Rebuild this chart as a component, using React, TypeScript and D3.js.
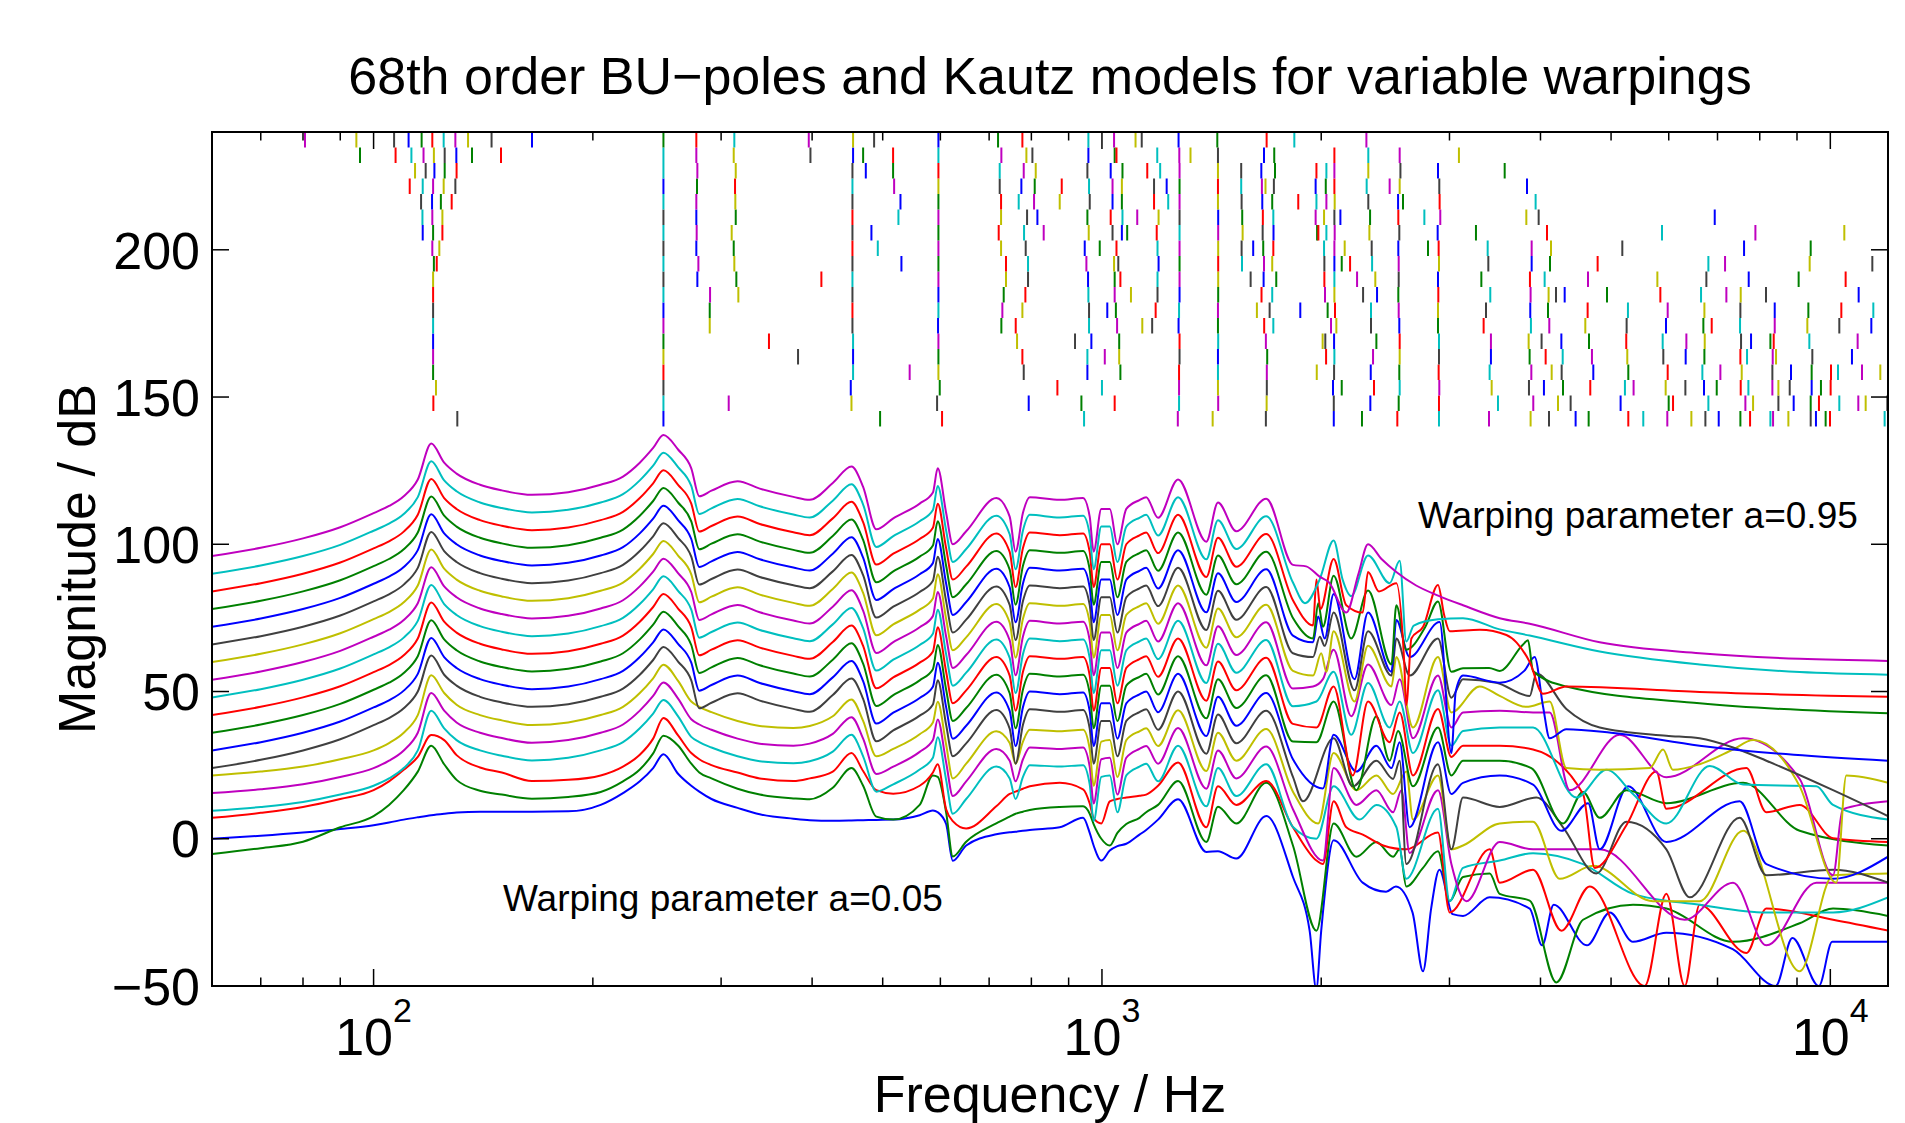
import { useEffect, useRef } from "react";
import * as d3 from "d3";

// warping parameter of each curve, bottom (a=0.05) to top (a=0.95)
const warpings = [0.05, 0.1, 0.15, 0.2, 0.25, 0.3, 0.35, 0.4, 0.45, 0.5, 0.55, 0.6, 0.65, 0.7, 0.75, 0.8, 0.85, 0.9, 0.95];
// each curve is lifted by 6 dB over the one below
const offsetsDb = [0, 6, 12, 18, 24, 30, 36, 42, 48, 54, 60, 66, 72, 78, 84, 90, 96, 102, 108];

// common frequency grid (Hz) for the part below ~1.8 kHz
const lowFreqs = [60, 70, 80, 90, 100, 105, 110, 115, 120, 125, 130, 140, 150, 165, 185, 205, 220, 232, 242, 250,
  262, 273, 280, 291, 316, 339, 377, 397, 427, 453, 470, 490, 517, 562, 586, 595, 611, 624, 651, 716,
  747, 761, 779, 796, 875, 942, 962, 974, 998, 1025, 1050, 1080, 1126, 1150, 1194, 1272, 1391, 1443, 1529, 1681, 1829];

// magnitude (dB, before offset) on lowFreqs
const shapeA05 = [0, 1, 2.1, 3.3, 4.6, 5.5, 6.5, 7.3, 8, 8.5, 8.9, 9.2, 9.2, 9.2, 9.3, 11.5, 15.5, 19.5, 24, 28.7,
  22, 18, 16, 13.5, 10.5, 8.3, 6.8, 6.3, 6.1, 6.2, 6.3, 6.4, 6.5, 8, 9.6, 9, 5, -7.5, -2.3, 1.5,
  2.2, 2.4, 2.7, 3, 3.9, 7.1, 2, -2.3, -7.4, -4, -2.5, -1.7, 1.4, 3, 6.5, 13.4, -4.5, -4.2, -6.7, 7.7, -13];
const shapeA10 = [-11.2, -9.2, -7, -2.1, 1.7, 5.5, 10.5, 16.8, 25.6, 19.3, 14, 10.3, 9, 7.6, 8.2, 9.9, 13.5, 17.5, 23, 29,
  25.6, 19.5, 16.5, 14.5, 11, 9, 7.7, 7.4, 11.3, 18, 12, 1.5, 0.5, 5.5, 15.5, 15, 3, -12, -7, -0.8,
  1.5, 2.5, 3.2, 3.8, 4.8, 5, 2.5, -1, -6, -8.3, -4, -1, 1.1, 3, 5.5, 13.6, -7.1, 4.9, -0.8, 13, -8.3];
const shapeA15 = [-4.9, -3.2, -1.2, 1.5, 4.5, 7.5, 11.4, 15.8, 23.2, 21.5, 16.4, 12.2, 10.5, 7.6, 8, 9.5, 12.5, 16.5, 22, 29,
  23, 17.1, 15, 13, 10.5, 8.5, 7.6, 8.5, 10.8, 17.1, 11, 4.5, 3.3, 6, 10.5, 13.3, -2, -6, -8.5, -1,
  3.2, 4, 5, 5.8, 7, 4.8, 0, -5, -6.8, 0.7, 1.5, 2, 2.6, 3, 6, 13.9, -8.1, 5.8, -0.5, 7.6, -8.1];
const shapeLowMid = [-8.5, -7.2, -5.5, -3, 0, 2.5, 6, 12, 25.5, 19.5, 15.5, 12, 10.2, 8.6, 9.5, 12, 14.8, 19.5, 24.5, 29.1,
  23.5, 16.6, 14.8, 13, 10, 8.3, 7.6, 8.3, 11.6, 17.3, 10, -2, 0.5, 5.5, 9.5, 16.5, 2, -9.5, -4.5, 6.5,
  2.5, -4.5, 3, 7, 6.5, 7, 0.5, -12, 3, 3.5, -9, 3.5, 6.5, 7.5, 1.5, 13.6, -7, 6, -3.5, 7.3, -14];
const shapeUpper = [-12, -9.2, -6, -2.2, 2.6, 5, 8.3, 14, 26.2, 19.7, 16, 12.2, 10.3, 8.8, 9.7, 12.2, 15, 19.7, 24.7, 29.1,
  24.1, 17.8, 8.3, 10.2, 13.4, 10.9, 8.1, 7.1, 12.8, 18.4, 11.5, -2.9, 0.8, 5.8, 9.6, 17.8, 2.7, -8, -3.6, 7.7,
  1.4, -10.5, 2.7, 8, 7.1, 7.7, 1.4, -10.5, 4, 4, -8, 4, 7, 8, 1, 14, -7.1, 6.2, -3.6, 7.5, -15];

const curveShapes = [shapeA05, shapeA10, shapeA15, shapeLowMid, shapeLowMid, shapeLowMid,
  shapeUpper, shapeUpper, shapeUpper, shapeUpper, shapeUpper, shapeUpper, shapeUpper,
  shapeUpper, shapeUpper, shapeUpper, shapeUpper, shapeUpper, shapeUpper];

// upper band, [Hz, dB] including the offset
const tail05 = [[1928, -31.2], [1969, -51], [2000, -31.2], [2080, -0.5], [2280, -14.9], [2455, -18], [2533, -16.2], [2669, -25], [2759, -45], [2831, -23.7], [2906, -10.5], [3030, -25.6], [3131, -26.2], [3407, -19.9], [3866, -23.7], [4021, -36.2], [4171, -22.4], [4633, -36.2], [4981, -25], [5359, -35], [5955, -31.9], [7345, -37.5], [8413, -50], [8870, -33.7], [9645, -50], [10060, -35], [12000, -35]];
const tail10 = [[1970, -31.2], [2080, 5.2], [2235, -6.1], [2381, -1.1], [2510, -6.1], [2563, -3.6], [2617, -16.2], [2759, -9.9], [2893, -4.2], [3002, -21.2], [3131, -13], [3407, -11.8], [3516, -18.7], [3866, -21], [4206, -48.8], [4576, -27.5], [5359, -22.4], [5955, -23.7], [7353, -35], [9077, -28.7], [10086, -23.7], [12000, -26.2]];
const tail15 = [[1970, -7.4], [2011, -8.6], [2080, 12.7], [2165, 3.9], [2281, 1.4], [2433, -2.3], [2617, -3.6], [2893, 2.1], [3002, -25], [3407, -3.6], [3516, -14.9], [3907, -10.5], [4273, -31.2], [4674, -16.2], [5561, -50], [5955, -18.7], [6310, -50], [6615, -22.4], [7670, -38.8], [8170, -23.7], [10086, -27.5], [12000, -31.2]];
const tail20 = [[1970, 0], [2080, 17.8], [2258, 6.5], [2381, 11.5], [2536, 4], [2617, -13.6], [2893, 10.2], [3002, -21.2], [3131, -9.9], [3516, -7.4], [3907, -4.9], [4576, -8.6], [5359, -18.7], [6615, -22.4], [8170, -25], [10086, -25], [12000, -19.9]];
const tail25 = [[2011, -7.4], [2080, 24], [2235, 11.5], [2381, 16.5], [2510, 9], [2577, 16.5], [2645, -4.8], [2893, 16.5], [3018, -8.6], [3164, -21.2], [3516, -1.1], [3907, -3.6], [4824, -3.6], [6310, -27.5], [7353, -14.9], [8170, -36.2], [9568, -14.9], [12000, -14.9]];
const tail30 = [[1981, 5.2], [2080, 29.1], [2235, 16.5], [2381, 21.5], [2510, 15.2], [2617, 22.8], [2673, 6.5], [2893, 21.5], [3018, -3.6], [3131, -2.3], [3516, 5.2], [3907, 5.8], [4251, -13.6], [4722, -9.2], [5709, -21.2], [6615, -21.2], [7590, 2.7], [9077, -45], [10086, -12.4], [12000, -11.8]];
const tail35 = [[1888, 12.7], [2080, 34.1], [2210, 17.8], [2381, 26.5], [2510, 20.3], [2563, 26.5], [2617, -8.6], [2893, 25.3], [3018, -3.6], [3131, 14], [3516, 10.8], [3948, 14], [4296, 3.9], [4773, -11.8], [5248, 5.8], [5955, -3.6], [6410, -19.9], [7509, 7.1], [8170, -12.4], [10086, -10.5], [12000, -14.9]];
const tail40 = [[2011, 17.1], [2080, 35.3], [2235, 22.8], [2381, 31.6], [2497, 24], [2563, 32.8], [2645, 3.9], [2893, 32.8], [3018, 15.2], [3131, 19], [3516, 21.5], [3907, 18.4], [4273, 2.7], [4650, 12.1], [4824, -3.6], [5276, 17.8], [5955, -1.1], [7509, 12.7], [8170, -8.6], [10086, -13.6], [12000, -6.1]];
const tail45 = [[1970, 32.8], [2080, 46.6], [2235, 16.5], [2381, 41.6], [2483, 26.5], [2550, 36.6], [2673, 17.8], [2893, 37.8], [3018, 21.5], [3131, 26.5], [3516, 26.5], [3886, 24], [4296, 5.2], [4576, 15.9], [4824, 7.1], [5248, 16.5], [5955, 12.1], [7590, 19], [9077, 2.7], [12000, -2.3]];
const tail50 = [[1970, 37.8], [2080, 51.7], [2210, 21.5], [2319, 46.6], [2483, 32.8], [2563, 42.9], [2673, 21.5], [2893, 44.1], [3018, 27.8], [3131, 31.6], [3516, 31.6], [3907, 30.3], [4576, 15.2], [4748, -9.9], [5248, 4.6], [5769, 22.8], [5955, 10.2], [7670, 24], [8170, 9], [9077, 11.5], [10086, 0.2], [12000, -1.1]];
const tail55 = [[1970, 46.6], [2080, 56.7], [2199, 35.3], [2319, 52.9], [2483, 37.8], [2563, 46.6], [2673, 29.1], [2893, 50.4], [3018, 31.6], [3131, 36.6], [3516, 37.8], [3907, 37.8], [4480, 14], [4928, 23.4], [5359, 15.2], [5955, 5.2], [6829, 24.7], [7590, 18.4], [9568, 17.8], [10086, 11.5], [12000, 6.5]];
const tail60 = [[1949, 51.7], [2011, 54.2], [2080, 64.2], [2199, 41.6], [2319, 59.2], [2497, 45.4], [2563, 54.2], [2673, 34.1], [2893, 55.4], [3018, 37.8], [3131, 42.9], [3516, 43.5], [3907, 42.9], [4118, 42.9], [4387, 16.5], [5139, 35.3], [5955, 20.9], [7590, 34.1], [9077, 20.3], [10086, -12.4], [10400, 10], [12000, 12.7]];
const tail65 = [[1949, 55.4], [2000, 63], [2033, 56.7], [2080, 70.5], [2222, 46.6], [2319, 65.5], [2497, 51.7], [2536, 61.7], [2673, 37.8], [2893, 61.7], [3018, 42.9], [3300, 51.7], [3516, 48.5], [3825, 44.8], [4118, 46.6], [4341, 24], [4824, 23.4], [5649, 24], [5893, 30.3], [6081, 23.4], [6615, 25.3], [7353, 30.3], [7833, 33.5], [9077, 17.8], [10191, -14.9], [10519, 21.5], [12000, 19]];
const tail70 = [[1949, 61.7], [1991, 68.6], [2022, 65.5], [2080, 76.8], [2222, 50.4], [2319, 70.5], [2497, 55.4], [2536, 68], [2645, 55.4], [2893, 68], [3018, 47.9], [3131, 54.2], [3480, 53], [3866, 48.5], [3948, 56.1], [4341, 44.1], [4824, 37.8], [5955, 35], [6615, 34.1], [7353, 31], [8170, 26.5], [10086, 16.5], [12000, 7.7]];
const tail75 = [[1949, 66.7], [1981, 75.5], [2022, 68], [2080, 83.1], [2222, 54.2], [2319, 76.8], [2497, 56.7], [2536, 74.3], [2645, 61.7], [2908, 73.6], [3018, 29.1], [3060, 50], [3131, 55.4], [3516, 53], [3800, 57], [3927, 61.7], [4032, 45], [4118, 34.1], [4341, 37.2], [5000, 36], [6615, 31.6], [12000, 26.5]];
const tail80 = [[1949, 68], [1981, 80], [2011, 72], [2080, 89.3], [2199, 68], [2319, 84.3], [2497, 59.2], [2536, 79.3], [2617, 64.2], [2780, 72], [2893, 80.6], [3018, 56.7], [3131, 57.9], [3400, 58], [3516, 57], [3786, 66], [3845, 67.4], [3907, 57], [4341, 51.7], [6615, 46], [12000, 42.6]];
const tail85 = [[1949, 72.4], [1970, 88], [1995, 78], [2080, 95], [2165, 79.3], [2280, 76.8], [2319, 90.6], [2400, 84], [2536, 86.8], [2600, 60], [2617, 45.4], [2660, 68], [2760, 72], [2893, 86.2], [2950, 76], [3002, 70.5], [3300, 71], [3592, 69.2], [3707, 66.7], [3866, 60], [4032, 49.2], [4341, 51.7], [6615, 49.8], [12000, 48.2]];
const tail90 = [[1900, 80], [1990, 88], [2080, 101.3], [2140, 88], [2199, 82.4], [2319, 96.2], [2483, 86.8], [2563, 94.4], [2617, 67], [2680, 72.4], [2893, 74.5], [3131, 74.9], [3516, 71.1], [3866, 69], [4824, 63.6], [6615, 59.2], [9077, 56.6], [12000, 55.7]];
const tail95 = [[1907, 92.5], [1990, 89], [2050, 87], [2165, 76.8], [2250, 90], [2319, 100], [2420, 95], [2536, 90.6], [2700, 86], [2900, 82.5], [3131, 79.3], [3516, 74.9], [3866, 73], [4824, 66.7], [6615, 63], [9077, 61.1], [12000, 60.4]];

const curveTails = [tail05, tail10, tail15, tail20, tail25, tail30, tail35, tail40, tail45, tail50,
  tail55, tail60, tail65, tail70, tail75, tail80, tail85, tail90, tail95];

// pole frequencies (Hz) of each model, drawn as short bars in the band above the curves
const polesA95 = [80.5, 94.7, 106.7, 111.7, 116.4, 120.4, 124.8, 129.5, 134.8, 145.2, 165, 250, 277.4, 312.8, 395.8, 455.3, 486.6, 596.3, 720, 777.6, 958, 1039, 1112, 1134, 1274, 1440, 1683, 1837, 2307];
const polesA90 = [95.8, 107.2, 112.7, 117.1, 121, 125.2, 129.9, 136.5, 149.6, 250, 277.4, 312.2, 397.9, 455.3, 470, 516.7, 596.3, 727.6, 787.5, 802.6, 958, 1041, 1047, 1191, 1277, 1323, 1443, 1669, 1724, 2085, 2321, 2563, 3091];
const polesA85 = [114, 117.9, 121.2, 125.2, 130, 250, 278.3, 314.2, 454.4, 474, 516.7, 596.3, 723.8, 780.9, 811.1, 955, 1028, 1067, 1154, 1202, 1278, 1443, 1553, 1655, 1728, 1970, 2033, 2085, 2321, 2569, 2893, 3572];
const polesA80 = [112.1, 116.8, 120.7, 124.8, 129.5, 250, 278, 313.5, 454.4, 518.4, 596.3, 723.8, 775.1, 808.5, 880.6, 960, 1034, 1065, 1179, 1227, 1278, 1443, 1553, 1658, 1677, 1722, 1965, 2029, 2085, 2309, 2483, 2563, 2905, 3833];
const polesA75 = [116.2, 120.3, 123.7, 128, 250, 277.4, 313.8, 454.4, 528.9, 596.3, 726.9, 768.6, 806.8, 875, 962.1, 1034, 1065, 1179, 1233, 1278, 1443, 1555, 1660, 1713, 1860, 1970, 2033, 2087, 2321, 2550, 2590, 2908, 3939];
const polesA70 = [116.7, 120.4, 124.3, 250, 277.4, 314.2, 454.4, 525.5, 596.3, 726.9, 789.2, 815.4, 955, 1028, 1067, 1118, 1196, 1278, 1444, 1558, 1663, 1719, 1965, 2018, 2085, 2125, 2334, 2552, 2771, 2914, 3825, 3977, 6939];
const polesA65 = [116.8, 120.7, 124.3, 250, 277.7, 310.2, 454.4, 482.5, 596.3, 721.5, 781.7, 831.8, 959, 1034, 1065, 1083, 1189, 1278, 1444, 1560, 1662, 1720, 1974, 1982, 2033, 2087, 2329, 2560, 2890, 3262, 4083, 5874, 7891, 10452];
const polesA60 = [120.4, 123.1, 250, 277.4, 312.2, 454.4, 492.3, 596.3, 726.9, 785.8, 947, 993, 1047, 1192, 1278, 1444, 1555, 1613, 1665, 1719, 2018, 2085, 2154, 2346, 2552, 2803, 2899, 3385, 3890, 4135, 5181, 7613, 9398];
const polesA55 = [121, 122.1, 250, 279.2, 312.8, 454.4, 530.5, 596.3, 738.4, 791.6, 952, 1039, 1053, 1196, 1278, 1444, 1557, 1669, 1713, 2020, 2085, 2134, 2191, 2349, 2555, 2902, 3392, 3890, 4122, 4792, 6801, 7169, 9368, 11420];
const polesA50 = [120.7, 250, 278.3, 314.8, 411.9, 454.4, 596.3, 738.4, 791.6, 957, 1041, 1060, 1192, 1278, 1444, 1600, 1667, 1735, 2020, 2085, 2240, 2373, 2555, 2893, 3318, 3869, 4053, 4648, 5788, 6758, 7726, 9047, 10496];
const polesA45 = [120.7, 250, 289.7, 316.8, 454.4, 596.3, 733, 785, 958, 1041, 1096, 1192, 1278, 1444, 1656, 1713, 2024, 2085, 2283, 2386, 2552, 2896, 3413, 3877, 4104, 4201, 4318, 4936, 5843, 6645, 7199, 7533, 8160, 10937];
const polesA40 = [120.7, 250, 289.4, 454.4, 596.3, 729.9, 777.6, 960, 1017, 1045, 1185, 1276, 1443, 1632, 1699, 1872, 2041, 2089, 2341, 2555, 2893, 3367, 3873, 4096, 4643, 5274, 5980, 6716, 7525, 8388, 9329, 10354, 11456];
const polesA35 = [120.7, 250, 289.4, 454.4, 595.6, 727.6, 761.4, 960, 1049, 1136, 1172, 1274, 1443, 1670, 1719, 2063, 2098, 2341, 2560, 2893, 3342, 3881, 4113, 4609, 5252, 5948, 6694, 6873, 7517, 8388, 9299, 10288, 11384];
const polesA30 = [120.7, 250, 349, 455.3, 596.3, 764.6, 918.4, 967.1, 1056, 1278, 1444, 1679, 2009, 2026, 2083, 2381, 2563, 2902, 3420, 3853, 4014, 4273, 4663, 5246, 5886, 6344, 6723, 7541, 7783, 8274, 8361, 9358, 10902];
const polesA25 = [120.7, 250, 382.6, 455.3, 596.3, 777.6, 955, 1009, 1056, 1278, 1443, 1686, 2031, 2085, 2356, 2563, 2902, 3420, 3865, 4066, 4291, 4707, 5263, 5898, 6330, 6716, 7525, 7685, 8335, 8423, 9447, 10708];
const polesA20 = [120.7, 250, 455.3, 544.5, 596.3, 780.9, 955, 1060, 1276, 1443, 1684, 1972, 2083, 2339, 2560, 2899, 3406, 3886, 4144, 4277, 4727, 5280, 5980, 6673, 7064, 7557, 8326, 8831, 9427, 10021, 10245, 11053, 11712];
const polesA15 = [121.8, 250, 452, 598.8, 868.6, 1000, 1276, 1443, 1684, 2076, 2134, 2363, 2563, 2905, 3428, 3857, 4044, 4295, 4682, 5224, 5369, 5942, 6324, 6708, 6983, 7533, 7718, 8326, 8486, 8795, 9427, 9708, 10010];
const polesA10 = [120.8, 250, 307.3, 453, 593.8, 793.3, 937.1, 1041, 1276, 1444, 1683, 2081, 2336, 2555, 2902, 3497, 3910, 4228, 4400, 5153, 5999, 6082, 6801, 7645, 7833, 8486, 8906, 9398, 9647, 10288, 10925, 11182, 11974];
const polesA05 = [130.3, 250, 495.9, 603.2, 945, 1271, 1419, 1679, 2081, 2275, 2544, 2902, 3399, 3877, 4109, 4470, 4658, 5280, 5536, 5973, 6445, 6737, 7027, 7525, 7759, 8274, 8344, 8758, 9398, 9556, 9853, 9989, 11873];

// indexed like warpings (a=0.05 first)
const poleRows = [polesA05, polesA10, polesA15, polesA20, polesA25, polesA30, polesA35, polesA40, polesA45, polesA50,
  polesA55, polesA60, polesA65, polesA70, polesA75, polesA80, polesA85, polesA90, polesA95];
const poleBandDb = [140, 240];

const yTicks = [-50, 0, 50, 100, 150, 200];
const xDecades = [2, 3, 4];

const title = "68th order BU\u2212poles and Kautz models for variable warpings";
const xLabel = "Frequency / Hz";
const yLabel = "Magnitude / dB";
const noteLow = "Warping parameter a=0.05";
const noteHigh = "Warping parameter a=0.95";

// old MATLAB colour order b, g, r, c, m, y, k
const colorOrder = ["#0000ff", "#008000", "#ff0000", "#00bfbf", "#bf00bf", "#bfbf00", "#404040"];
const font = "'Liberation Sans', Arial, Helvetica, sans-serif";

const W = 1905;
const H = 1123;
const box = { left: 212, right: 1888, top: 132, bottom: 986 };

const App = () => {
  const svgRef = useRef<SVGSVGElement>(null);

  useEffect(() => {
    const svg = d3.select(svgRef.current);
    svg.selectAll("*").remove();

    const x = d3.scaleLog().domain([60, 12000]).range([box.left, box.right]);
    const y = d3.scaleLinear().domain([-50, 240]).range([box.bottom, box.top]);

    svg.append("rect").attr("width", W).attr("height", H).attr("fill", "#fff");

    svg
      .append("clipPath")
      .attr("id", "plot-clip")
      .append("rect")
      .attr("x", box.left)
      .attr("y", box.top)
      .attr("width", box.right - box.left)
      .attr("height", box.bottom - box.top);

    const plot = svg.append("g").attr("clip-path", "url(#plot-clip)");

    // magnitude responses
    const line = d3
      .line<number[]>()
      .x((d) => x(d[0]))
      .y((d) => y(d[1]))
      .curve(d3.curveMonotoneX);

    warpings.forEach((w, i) => {
      const low = lowFreqs.map((f, k) => [f, curveShapes[i][k] + offsetsDb[i]]);
      const pts = low.concat(curveTails[i]);
      plot
        .append("path")
        .attr("d", line(pts))
        .attr("fill", "none")
        .attr("stroke", colorOrder[i % 7])
        .attr("stroke-width", 2)
        .attr("stroke-linejoin", "round");
    });

    // pole positions, one band row per warping, a=0.95 on top
    const rows = d3
      .scaleBand<number>()
      .domain([...warpings].reverse())
      .range([y(poleBandDb[1]), y(poleBandDb[0])]);

    warpings.forEach((w, i) => {
      const y0 = rows(w) as number;
      poleRows[i].forEach((f, k) => {
        plot
          .append("line")
          .attr("x1", x(f))
          .attr("x2", x(f))
          .attr("y1", y0)
          .attr("y2", y0 + rows.bandwidth())
          .attr("stroke", colorOrder[(k + 6 + i * 3) % 7])
          .attr("stroke-width", 2);
      });
    });

    // axes box and inward ticks on all four sides
    const axes = svg.append("g").attr("stroke", "#000");
    x.ticks().forEach((t) => {
      const major = Math.abs(Math.log10(t) - Math.round(Math.log10(t))) < 1e-9;
      const len = major ? 17 : 8.5;
      axes.append("line").attr("x1", x(t)).attr("x2", x(t)).attr("y1", box.bottom).attr("y2", box.bottom - len).attr("stroke-width", 1.5);
      axes.append("line").attr("x1", x(t)).attr("x2", x(t)).attr("y1", box.top).attr("y2", box.top + len).attr("stroke-width", 1.5);
    });
    yTicks.forEach((t) => {
      axes.append("line").attr("x1", box.left).attr("x2", box.left + 17).attr("y1", y(t)).attr("y2", y(t)).attr("stroke-width", 1.5);
      axes.append("line").attr("x1", box.right).attr("x2", box.right - 17).attr("y1", y(t)).attr("y2", y(t)).attr("stroke-width", 1.5);
    });
    axes
      .append("rect")
      .attr("x", box.left)
      .attr("y", box.top)
      .attr("width", box.right - box.left)
      .attr("height", box.bottom - box.top)
      .attr("fill", "none")
      .attr("stroke-width", 2);

    const text = svg.append("g").attr("font-family", font).attr("fill", "#000");

    yTicks.forEach((t) => {
      text
        .append("text")
        .attr("x", box.left - 12)
        .attr("y", y(t))
        .attr("dy", "0.36em")
        .attr("text-anchor", "end")
        .attr("font-size", 52)
        .text(t < 0 ? `\u2212${Math.abs(t)}` : `${t}`);
    });

    xDecades.forEach((d) => {
      const label = text
        .append("text")
        .attr("x", x(10 ** d))
        .attr("y", 1055)
        .attr("text-anchor", "middle")
        .attr("font-size", 52);
      label.append("tspan").text("10");
      label.append("tspan").attr("font-size", 34).attr("dy", -33).text(`${d}`);
    });

    text
      .append("text")
      .attr("x", (box.left + box.right) / 2)
      .attr("y", 94)
      .attr("text-anchor", "middle")
      .attr("font-size", 52)
      .text(title);

    // kept just inside the bottom edge
    text
      .append("text")
      .attr("x", (box.left + box.right) / 2)
      .attr("y", 1112)
      .attr("text-anchor", "middle")
      .attr("font-size", 52)
      .text(xLabel);

    text
      .append("text")
      .attr("transform", `translate(95, ${(box.top + box.bottom) / 2}) rotate(-90)`)
      .attr("text-anchor", "middle")
      .attr("font-size", 52)
      .text(yLabel);

    text.append("text").attr("x", 503).attr("y", 911).attr("font-size", 37).text(noteLow);
    text.append("text").attr("x", 1418).attr("y", 528).attr("font-size", 37).text(noteHigh);
  }, []);

  return (
    <svg
      ref={svgRef}
      width={W}
      height={H}
      style={{ position: "absolute", left: 0, top: 0, display: "block" }}
    ></svg>
  );
};

export default App;
